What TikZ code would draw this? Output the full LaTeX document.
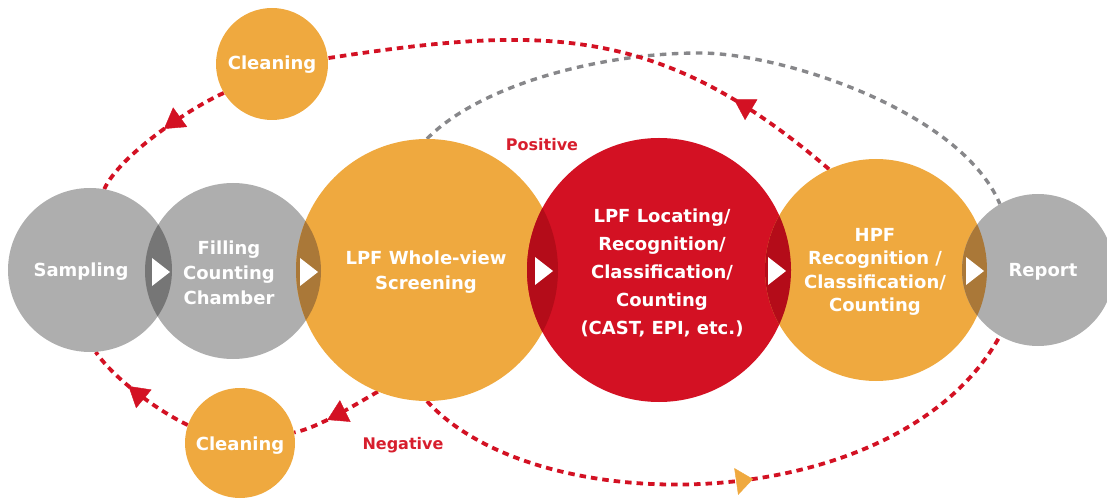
\documentclass[tikz,border=0pt]{standalone}
\usepackage{fontspec}
\setmainfont{DejaVu Sans}
\usetikzlibrary{arrows.meta,decorations.markings}
\pgfdeclarelayer{bg}
\pgfsetlayers{bg,main}
\definecolor{cgray}{RGB}{174,174,174}
\definecolor{corange}{RGB}{239,169,63}
\definecolor{cred}{RGB}{211,17,35}
\definecolor{cggd}{RGB}{118,118,118}
\definecolor{cgod}{RGB}{170,120,56}
\definecolor{crd}{RGB}{180,12,25}
\definecolor{ctxt}{RGB}{215,30,45}
\definecolor{cdash}{RGB}{135,135,138}
\tikzset{
  disc/.style={circle, inner sep=0pt, draw=none},
  lbl/.style={text=white, align=center, font=\fontsize{18bp}{25bp}\selectfont\bfseries},
  tag/.style={text=ctxt, font=\fontsize{16bp}{18bp}\selectfont\bfseries},
  flow/.style={draw=cred, line width=3.8bp, dash pattern=on 6.5bp off 5bp},
  gflow/.style={draw=cdash, line width=3.4bp, dash pattern=on 6.5bp off 5.5bp},
  mk/.style={postaction={decorate}, decoration={markings, mark=at position #1 with {\arrow[solid, line width=0.4bp, cred]{Triangle[length=20bp, width=24bp]}}}},
  mko/.style={postaction={decorate}, decoration={markings, mark=at position #1 with {\arrow[solid, line width=0.4bp, corange]{Triangle[length=17bp, width=27bp]}}}}
}
\begin{document}
\begin{tikzpicture}[x=1bp, y=-1bp]
\useasboundingbox (0,0) rectangle (1107,499);
% circles
\node[disc, fill=cgray, minimum size=164bp] (samp) at (90,270) {};
\node[disc, fill=cgray, minimum size=176bp] (fillc) at (233,271) {};
\node[disc, fill=corange, minimum size=262bp] (lpf) at (427,270) {};
\node[disc, fill=cred, minimum size=264bp] (loc) at (659,270) {};
\node[disc, fill=corange, minimum size=222bp] (hpf) at (876,270) {};
\node[disc, fill=cgray, minimum size=152bp] (report) at (1038,270) {};
\node[disc, fill=corange, minimum size=112bp] (cl1) at (272,64) {};
\node[disc, fill=corange, minimum size=110bp] (cl2) at (240,443) {};
% overlaps
\begin{scope}\clip (samp.center) circle[radius=82bp]; \fill[cggd] (fillc.center) circle[radius=88bp];\end{scope}
\begin{scope}\clip (fillc.center) circle[radius=88bp]; \fill[cgod] (lpf.center) circle[radius=131bp];\end{scope}
\begin{scope}\clip (lpf.center) circle[radius=131bp]; \fill[crd] (loc.center) circle[radius=132bp];\end{scope}
\begin{scope}\clip (loc.center) circle[radius=132bp]; \fill[crd] (hpf.center) circle[radius=111bp];\end{scope}
\begin{scope}\clip (hpf.center) circle[radius=111bp]; \fill[cgod] (report.center) circle[radius=76bp];\end{scope}
% white triangles
\fill[white] (152,258) -- (170,272) -- (152,286) -- cycle;
\fill[white] (300,258) -- (318,272) -- (300,286) -- cycle;
\fill[white] (535,257) -- (553,271) -- (535,285) -- cycle;
\fill[white] (768,257) -- (786,271) -- (768,285) -- cycle;
\fill[white] (966,257) -- (984,271) -- (966,285) -- cycle;
% texts
\node[lbl] (tsamp) at (81,272) {Sampling};
\node[lbl] (tfill) at (229,273) {Filling\\Counting\\Chamber};
\node[lbl] (tlpf) at (426,272) {LPF Whole-view\\Screening};
\node[lbl, font=\fontsize{18bp}{28bp}\selectfont\bfseries] (tloc) at (662,273) {LPF Locating/\\Recognition/\\Classification/\\Counting\\(CAST, EPI, etc.)};
\node[lbl, font=\fontsize{18bp}{23.5bp}\selectfont\bfseries] (thpf) at (875,272) {HPF\\Recognition /\\Classification/\\Counting};
\node[lbl] (trep) at (1043,272) {Report};
\node[lbl] (tcl1) at (272,65) {Cleaning};
\node[lbl] (tcl2) at (240,446) {Cleaning};
\node[tag] (pos) at (542,145) {Positive};
\node[tag] (neg) at (403,445) {Negative};
% connectors
\coordinate (gtop) at (700,53);
\begin{pgfonlayer}{bg}
\draw[gflow] (lpf.north) .. controls (480,85) and (600,53) .. (gtop) .. controls (780,53) and (960,110) .. (report.120);
\draw[flow, mk=0.22] (hpf.115) .. controls (660,24) and (544,25) .. (cl1.6);
\draw[flow, mko=0.54] (lpf.south) .. controls (540,525) and (900,517) .. (report.240);
\draw[flow, mk=0.45] (cl1.211) .. controls (190,108) and (120,155) .. (samp.80);
\draw[flow, mk=0.62] (lpf.248) .. controls (358,403) and (318,428) .. (cl2.11);
\draw[flow, mk=0.6] (cl2.161) .. controls (160,412) and (115,380) .. (samp.274);
\end{pgfonlayer}
\end{tikzpicture}
\end{document}
